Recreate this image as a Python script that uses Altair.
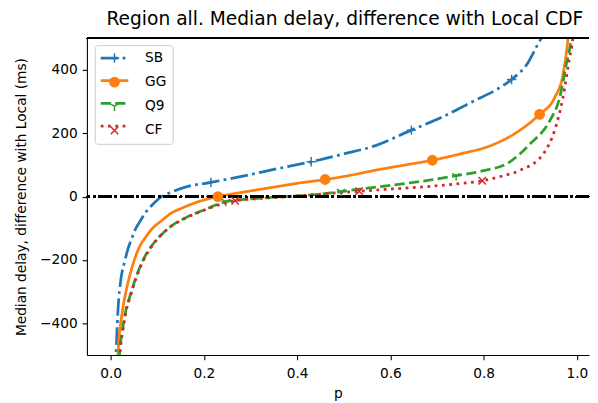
import altair as alt
import pandas as pd

SERIES = ["SB", "GG", "Q9", "CF"]
COLORS = ["#1f77b4", "#ff7f0e", "#2ca02c", "#d62728"]

x_ticks = [0.0, 0.2, 0.4, 0.6, 0.8, 1.0]
y_ticks = [-400, -200, 0, 200, 400]

# curves (p, median delay difference in ms)
sb_p = [0.010, 0.0155, 0.022, 0.030, 0.037, 0.045, 0.053, 0.063, 0.074, 0.09, 0.109, 0.13, 0.16,
        0.215, 0.25, 0.30, 0.35, 0.43, 0.50, 0.568, 0.645, 0.709, 0.779, 0.83, 0.86, 0.892, 0.924, 0.935]
sb_v = [-560, -363, -260, -205, -166, -133, -103, -78, -52, -25, 0, 14, 30,
        45, 55, 70, 86, 110, 135, 161, 210, 250, 302, 340, 370, 416, 500, 520]

gg_p = [0.013, 0.018, 0.025, 0.032, 0.039, 0.049, 0.063, 0.075, 0.088, 0.11, 0.13, 0.155, 0.18,
        0.23, 0.25, 0.30, 0.35, 0.40, 0.46, 0.52, 0.568, 0.62, 0.69, 0.75, 0.815, 0.871, 0.92,
        0.952, 0.97, 0.981, 0.985]
gg_v = [-560, -447, -363, -305, -260, -208, -155, -128, -103, -75, -52, -35, -20,
        0, 5.5, 18, 30, 42, 54, 69, 83.5, 97, 115, 135, 161, 203, 260,
        312, 385, 500, 560]

q9_p = [0.017, 0.019, 0.025, 0.032, 0.042, 0.053, 0.067, 0.088, 0.105, 0.12, 0.14, 0.166, 0.20,
        0.247, 0.30, 0.35, 0.40, 0.45, 0.494, 0.568, 0.674, 0.741, 0.80, 0.85, 0.90, 0.942,
        0.963, 0.977, 0.9875, 0.99]
q9_v = [-560, -499, -425, -363, -311, -260, -208, -155, -126, -104, -83, -63, -42,
        -16, -7, -2, 2, 8, 16, 30, 50, 66, 82, 104, 167, 240,
        312, 416, 500, 540]

cf_p = [0.018, 0.020, 0.026, 0.033, 0.043, 0.054, 0.068, 0.089, 0.105, 0.12, 0.14, 0.166, 0.20,
        0.267, 0.30, 0.35, 0.40, 0.45, 0.533, 0.60, 0.674, 0.74, 0.797, 0.84, 0.878, 0.928,
        0.952, 0.97, 0.984, 0.991, 0.993]
cf_v = [-560, -499, -425, -363, -311, -260, -208, -155, -126, -105, -84, -64, -43,
        -13, -8, -3, 2, 8, 17, 24, 31, 40, 50, 65, 83, 135,
        208, 312, 437, 500, 540]

# marker positions
sb_mp = [0.215, 0.43, 0.645, 0.86]
sb_mv = [45, 110, 210, 370]
gg_mp = [0.23, 0.46, 0.69, 0.92]
gg_mv = [0, 54, 115, 260]
q9_mp = [0.247, 0.494, 0.741]
q9_mv = [-16, 16, 66]
cf_mp = [0.267, 0.533, 0.797]
cf_mv = [-13, 17, 50]

curves = {"SB": (sb_p, sb_v), "GG": (gg_p, gg_v), "Q9": (q9_p, q9_v), "CF": (cf_p, cf_v)}
marks = {"SB": (sb_mp, sb_mv), "GG": (gg_mp, gg_mv), "Q9": (q9_mp, q9_mv), "CF": (cf_mp, cf_mv)}

line_rows = []
for k, s in enumerate(SERIES):
    for p, v in zip(*curves[s]):
        line_rows.append({"k": k, "series": s, "p": p, "v": v})
line_df = pd.DataFrame(line_rows)

mark_rows = []
for s in SERIES:
    for p, v in zip(*marks[s]):
        mark_rows.append({"series": s, "p": p, "v": v})
mark_df = pd.DataFrame(mark_rows)

LW = 2.78
DASHES = [[17.8, 4.4, 2.8, 4.4], [1, 0], [10.3, 4.4], [2.8, 4.6]]
SHAPES = ["M-1,0L1,0M0,-1L0,1", "circle",
          "M0,0L0,1M0,0L-0.866,-0.5M0,0L0.866,-0.5",
          "M-0.8,-0.8L0.8,0.8M-0.8,0.8L0.8,-0.8"]
FILLS = ["transparent", "#ff7f0e", "transparent", "transparent"]

FONT = "DejaVu Sans"
FS = 13.9

xscale = alt.Scale(domain=[-0.051, 1.026], nice=False, zero=False)
yscale = alt.Scale(domain=[-500, 500], nice=False, zero=False)

xaxis = alt.Axis(values=x_ticks, format=".1f", title="p", grid=False, labelFlush=False,
                 labelOverlap=False, labelPadding=6.5, titlePadding=7)
yaxis = alt.Axis(values=y_ticks, title="Median delay, difference with Local (ms)", grid=False,
                 labelOverlap=False, titlePadding=11)

stroke_legend = alt.Legend(title=None, orient="none", legendX=12.5, legendY=4.5, padding=0,
                           symbolType="stroke", symbolSize=784, symbolStrokeWidth=LW,
                           rowPadding=-8.5, labelOpacity=0, labelFontSize=FS)
marker_legend = alt.Legend(title=None, orient="none", legendX=8, legendY=7, padding=6,
                           symbolSize=90, symbolStrokeWidth=1.5, rowPadding=8.5,
                           symbolOffset=7, labelOffset=24, labelFontSize=FS, labelFont=FONT,
                           labelColor="black", strokeColor="#cccccc", cornerRadius=3)

lines = alt.Chart(line_df).mark_line(strokeWidth=LW, interpolate="monotone", clip=True).encode(
    x=alt.X("p:Q", scale=xscale, axis=xaxis),
    y=alt.Y("v:Q", scale=yscale, axis=yaxis),
    color=alt.Color("k:N", scale=alt.Scale(range=COLORS), legend=stroke_legend),
    strokeDash=alt.StrokeDash("k:N", scale=alt.Scale(range=DASHES), legend=stroke_legend),
    detail="k:N",
)

zero = alt.Chart(line_df).mark_rule(color="black", strokeWidth=2.0,
                                    strokeDash=[13.3, 3.3, 2.1, 3.3]).encode(y=alt.datum(0))

markers = alt.Chart(mark_df).mark_point(filled=False, opacity=1, size=90, strokeWidth=1.5,
                                        clip=True).encode(
    x=alt.X("p:Q", scale=xscale),
    y=alt.Y("v:Q", scale=yscale),
    shape=alt.Shape("series:N", scale=alt.Scale(domain=SERIES, range=SHAPES), legend=marker_legend),
    fill=alt.Fill("series:N", scale=alt.Scale(domain=SERIES, range=FILLS), legend=marker_legend),
    stroke=alt.Stroke("series:N", scale=alt.Scale(domain=SERIES, range=COLORS), legend=marker_legend),
)

top = alt.Chart(line_df).mark_rule(color="black", strokeWidth=1.1).encode(y=alt.datum(500))

chart = alt.layer(lines, zero, markers, top).properties(
    width=509, height=321,
    padding={"left": 80, "top": 28, "right": 1, "bottom": 46},
    autosize=alt.AutoSizeParams(type="none"),
    title=alt.Title("Region all. Median delay, difference with Local CDF", font=FONT,
                    fontSize=18.9, fontWeight="normal", color="black", anchor="middle",
                    frame="group", offset=9, dx=7),
).configure_view(stroke=None).configure_axis(
    domainColor="black", domainWidth=1.1, tickColor="black", tickWidth=1.1, tickSize=4.9,
    labelPadding=4.9, labelFont=FONT, labelFontSize=FS, labelColor="black",
    titleFont=FONT, titleFontSize=FS, titleFontWeight="normal", titleColor="black",
).configure_legend(labelFont=FONT, labelColor="black")

chart.save("out.html", embed_options={"renderer": "svg", "actions": False})
